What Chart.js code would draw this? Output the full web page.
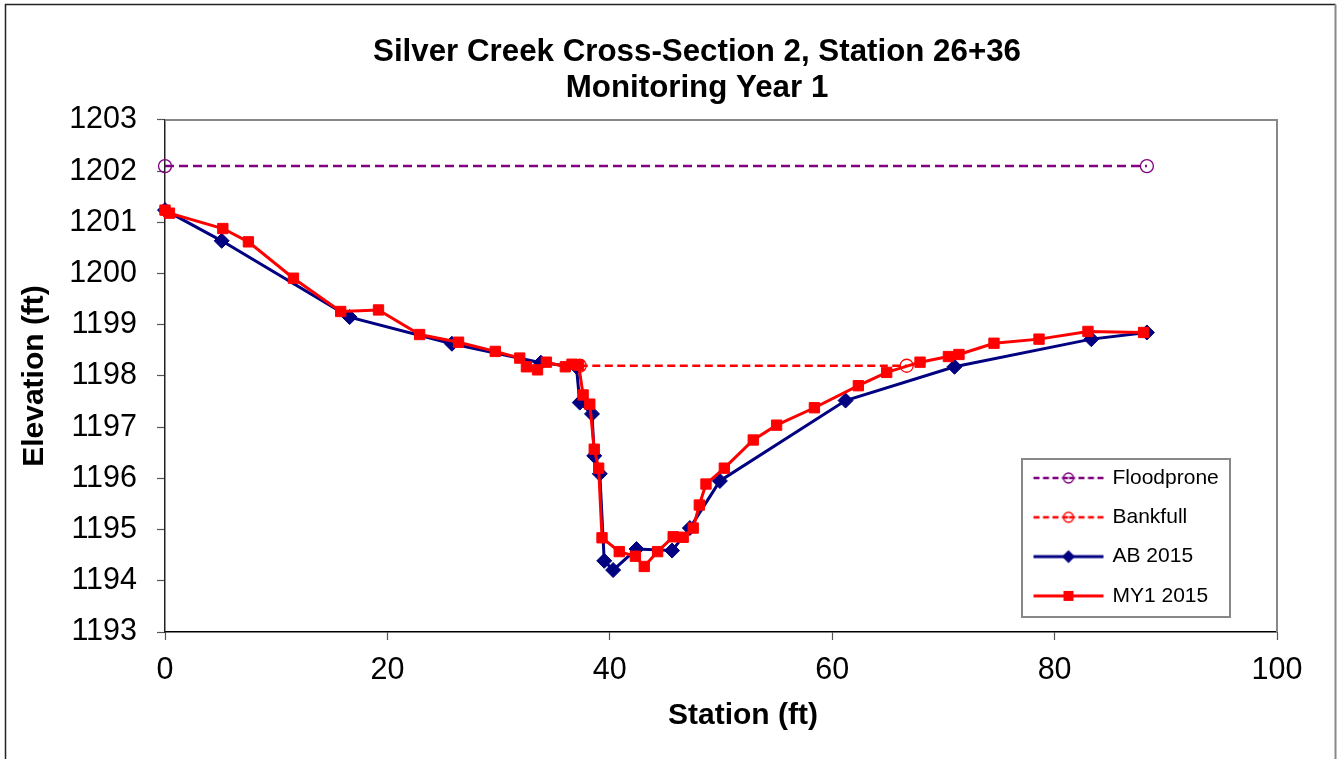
<!DOCTYPE html>
<html><head><meta charset="utf-8">
<script src="https://cdn.jsdelivr.net/npm/chart.js@4.4.1/dist/chart.umd.min.js"></script>
<style>html,body{margin:0;padding:0;background:#fff;overflow:hidden}canvas{display:block}</style>
</head><body>
<canvas id="c" width="1337" height="759"></canvas>
<script>
// ---- data ----
const titleLines = ['Silver Creek Cross-Section 2, Station 26+36', 'Monitoring Year 1'];
const xAxisTitle = 'Station (ft)';
const yAxisTitle = 'Elevation (ft)';
const seriesNames = ['Floodprone', 'Bankfull', 'AB 2015', 'MY1 2015'];

const floodStation = [0, 88.3];
const floodElev = [1202.1, 1202.1];

const bankStation = [37.3, 66.7];
const bankElev = [1198.2, 1198.2];

const abStation = [0, 5.1, 16.6, 25.8, 33.8, 37.0, 37.3, 38.4, 38.6, 39.1, 39.5, 40.3, 42.4, 45.6, 47.2, 49.9, 61.2, 71.0, 83.3, 88.3];
const abElev = [1201.24, 1200.64, 1199.15, 1198.63, 1198.26, 1198.18, 1197.48, 1197.26, 1196.44, 1196.09, 1194.39, 1194.21, 1194.62, 1194.59, 1195.03, 1195.95, 1197.52, 1198.18, 1198.72, 1198.85];

const myStation = [0, 0.4, 5.2, 7.5, 11.55, 15.8, 19.2, 22.9, 26.4, 29.7, 31.9, 32.5, 33.5, 34.3, 36.0, 36.6, 37.2, 37.6, 38.2, 38.6, 39.0, 39.3, 40.85, 42.3, 43.1, 44.3, 45.7, 46.6, 47.5, 48.05, 48.65, 50.3, 52.9, 55.0, 58.4, 62.35, 64.9, 67.9, 70.45, 71.4, 74.55, 78.6, 83.0, 88.0];
const myElev = [1201.24, 1201.18, 1200.88, 1200.62, 1199.91, 1199.26, 1199.29, 1198.81, 1198.66, 1198.48, 1198.35, 1198.18, 1198.12, 1198.27, 1198.18, 1198.23, 1198.21, 1197.63, 1197.45, 1196.57, 1196.20, 1194.84, 1194.57, 1194.48, 1194.28, 1194.57, 1194.86, 1194.85, 1195.03, 1195.48, 1195.89, 1196.20, 1196.75, 1197.04, 1197.38, 1197.81, 1198.07, 1198.27, 1198.38, 1198.42, 1198.64, 1198.72, 1198.87, 1198.85];

const xMin = 0, xMax = 100, xStep = 20;
const yMin = 1193, yMax = 1203, yStep = 1;

// ---- styling ----
const FONT = '"Liberation Sans", Arial, Helvetica, sans-serif';
const PURPLE = '#800080', RED = '#FF0000', NAVY = '#000080';

function pts(xs, ys) { return xs.map((x, i) => ({x: x, y: ys[i]})); }

function sample(color, dashed, marker) {
  const c = document.createElement('canvas');
  c.width = 72; c.height = 16;
  const g = c.getContext('2d');
  g.strokeStyle = color; g.fillStyle = color;
  g.lineWidth = dashed ? 2.5 : 3;
  if (dashed) {
    g.setLineDash([6, 3.5]);
    g.beginPath(); g.moveTo(1, 8); g.lineTo(36, 8); g.stroke();
    g.beginPath(); g.moveTo(71, 8); g.lineTo(36, 8); g.stroke();
    g.setLineDash([]);
  } else {
    g.beginPath(); g.moveTo(1, 8); g.lineTo(71, 8); g.stroke();
  }
  g.lineWidth = 1.3;
  if (marker === 'circle') {
    g.beginPath(); g.arc(36, 8, 5, 0, Math.PI * 2); g.stroke();
  } else if (marker === 'diamond') {
    g.beginPath(); g.moveTo(29.5, 8); g.lineTo(36, 1.5); g.lineTo(42.5, 8); g.lineTo(36, 14.5); g.closePath(); g.fill();
  } else if (marker === 'square') {
    g.fillRect(31, 3, 10, 10);
  }
  return c;
}
const legendSamples = [
  sample(PURPLE, true, 'circle'),
  sample(RED, true, 'circle'),
  sample(NAVY, false, 'diamond'),
  sample(RED, false, 'square')
];

const layoutPlugin = {
  id: 'layoutTweaks',
  beforeDraw(chart) {
    const ctx = chart.ctx;
    ctx.save();
    ctx.fillStyle = '#fff';
    ctx.fillRect(0, 0, chart.width, chart.height);
    ctx.lineWidth = 1.5;
    ctx.strokeStyle = '#222';
    ctx.beginPath(); ctx.moveTo(5.5, 770); ctx.lineTo(5.5, 4.5); ctx.lineTo(1335.5, 4.5); ctx.stroke();
    ctx.strokeStyle = '#888';
    ctx.lineWidth = 2;
    ctx.beginPath(); ctx.moveTo(1335.5, 4.5); ctx.lineTo(1335.5, 770); ctx.stroke();
    ctx.restore();
  },
  afterLayout(chart) {
    const tb = chart.titleBlock;
    if (tb) { tb.left = 697 - 500; tb.right = 697 + 500; tb.width = 1000; }
    const lg = chart.legend;
    if (lg) {
      lg.left = 1016.7; lg.top = 449.2; lg.right = 1320; lg.bottom = 720;
      lg.width = lg.right - lg.left; lg.height = lg.bottom - lg.top;
    }
    const sx = chart.scales.x;
    if (sx && !sx._shiftedTitle) {
      const orig = sx.drawTitle;
      sx.drawTitle = function () {
        const l = this.left, r = this.right;
        this.left = l + 22; this.right = r + 22;
        orig.call(this);
        this.left = l; this.right = r;
      };
      sx._shiftedTitle = true;
    }
  },
  beforeDatasetsDraw(chart) {
    const a = chart.chartArea, ctx = chart.ctx;
    ctx.save();
    ctx.strokeStyle = '#888';
    ctx.lineWidth = 2;
    ctx.beginPath();
    ctx.moveTo(a.left, a.top); ctx.lineTo(a.right, a.top); ctx.lineTo(a.right, a.bottom);
    ctx.stroke();
    // legend frame
    ctx.strokeRect(1022, 459, 208, 158);
    ctx.restore();
  }
};

new Chart(document.getElementById('c'), {
  type: 'line',
  data: {
    datasets: [
      { label: seriesNames[0], data: pts(floodStation, floodElev), borderColor: PURPLE, borderWidth: 2.5, borderDash: [9, 5],
        pointStyle: 'circle', pointRadius: 6.5, pointBorderWidth: 1.3, pointBorderColor: PURPLE, pointBackgroundColor: 'rgba(0,0,0,0)',
        fill: false, tension: 0, clip: false, order: 3 },
      { label: seriesNames[1], data: pts(bankStation, bankElev), borderColor: RED, borderWidth: 2.5, borderDash: [8, 4.5],
        pointStyle: 'circle', pointRadius: 6.5, pointBorderWidth: 1.3, pointBorderColor: RED, pointBackgroundColor: 'rgba(0,0,0,0)',
        fill: false, tension: 0, clip: false, order: 2 },
      { label: seriesNames[2], data: pts(abStation, abElev), borderColor: NAVY, borderWidth: 3,
        pointStyle: 'rectRot', pointRadius: 7.5, pointBorderWidth: 1, pointBorderColor: NAVY, pointBackgroundColor: NAVY,
        fill: false, tension: 0, clip: false, order: 1 },
      { label: seriesNames[3], data: pts(myStation, myElev), borderColor: RED, borderWidth: 3,
        pointStyle: 'rect', pointRadius: 7.3, pointBorderWidth: 1, pointBorderColor: RED, pointBackgroundColor: RED,
        fill: false, tension: 0, clip: false, order: 0 }
    ]
  },
  options: {
    responsive: false,
    animation: false,
    devicePixelRatio: 1,
    layout: { padding: { left: 17, right: 60, top: 0, bottom: 25 } },
    plugins: {
      tooltip: { enabled: false },
      title: {
        display: true, text: titleLines, color: '#000',
        font: { family: FONT, size: 31.3, weight: 'bold', lineHeight: 1.15 },
        padding: { top: 34, bottom: 14 }
      },
      legend: {
        position: 'chartArea', align: 'start',
        labels: {
          color: '#000', font: { family: FONT, size: 21 }, padding: 18.3,
          usePointStyle: true, pointStyleWidth: 67, boxHeight: 16,
          generateLabels(chart) {
            return seriesNames.map((n, i) => ({
              text: n, pointStyle: legendSamples[i], fillStyle: '#000', strokeStyle: '#000',
              lineWidth: 0, hidden: false, datasetIndex: i, fontColor: '#000'
            }));
          }
        }
      }
    },
    scales: {
      x: {
        type: 'linear', min: xMin, max: xMax,
        ticks: { stepSize: xStep, color: '#000', font: { family: FONT, size: 30.5 }, padding: 12, maxRotation: 0,
          callback: v => String(v) },
        grid: { drawOnChartArea: false, drawTicks: true, tickLength: 8, color: '#555', tickWidth: 1.2 },
        border: { display: true, color: '#000', width: 1.5 },
        title: { display: true, text: xAxisTitle, color: '#000', font: { family: FONT, size: 30, weight: 'bold' }, padding: 0 },
        afterFit(s) { s.height = 102; }
      },
      y: {
        type: 'linear', min: yMin, max: yMax,
        ticks: { stepSize: yStep, color: '#000', font: { family: FONT, size: 30.5 }, padding: 20,
          callback: v => String(v) },
        grid: { drawOnChartArea: false, drawTicks: true, tickLength: 8, color: '#555', tickWidth: 1.2 },
        border: { display: true, color: '#222', width: 1.5 },
        title: { display: true, text: yAxisTitle, color: '#000', font: { family: FONT, size: 30, weight: 'bold' }, padding: 0 },
        afterFit(s) { s.width = 148; }
      }
    }
  },
  plugins: [layoutPlugin]
});
</script>
</body></html>
